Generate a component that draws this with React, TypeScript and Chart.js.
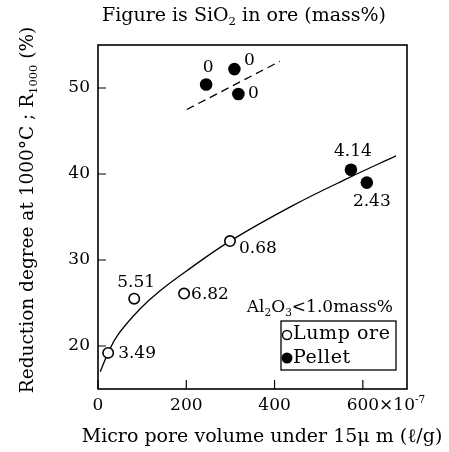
import React, { useEffect, useRef } from "react";
import { Chart, registerables } from "chart.js";

Chart.register(...registerables);

// Axis ranges and ticks
const xRange = [0, 700];
const yRange = [15, 55];
const xTickValues = [0, 200, 400, 600];
const yTickValues = [20, 30, 40, 50];

// Lump ore samples: micro pore volume (×10^-7 l/g), R1000 (%), SiO2 (mass%)
const lumpVolume = [23, 82, 195, 299];
const lumpR1000 = [19.2, 25.5, 26.1, 32.2];
const lumpSiO2 = ["3.49", "5.51", "6.82", "0.68"];

// Pellet samples
const pelletVolume = [245, 309, 318, 573, 609];
const pelletR1000 = [50.4, 52.2, 49.3, 40.5, 39.0];
const pelletSiO2 = ["0", "0", "0", "4.14", "2.43"];

// Hand-drawn trend line through the lump ore / silica-bearing pellets
const trendVolume = [5, 23, 45, 95, 140, 208, 299, 440, 570, 675];
const trendR1000 = [17.0, 19.2, 21.3, 24.3, 26.4, 29.0, 32.2, 36.3, 39.6, 42.1];

// Dashed trend for SiO2-free pellets
const dashVolume = [201, 412];
const dashR1000 = [47.5, 53.1];

const FONT = '"DejaVu Serif", "Liberation Serif", serif';

// label offsets (px) from each marker: [dx, dy, align]
const lumpLabelOffsets: [number, number, CanvasTextAlign][] = [
  [10, 1, "left"],
  [2, -16, "center"],
  [7, 1, "left"],
  [9, 7, "left"],
];
const pelletLabelOffsets: [number, number, CanvasTextAlign][] = [
  [2, -17, "center"],
  [15, -9, "center"],
  [15, 0, "center"],
  [2, -18, "center"],
  [5, 19, "center"],
];

type Seg = [string, number]; // text, 0 normal / 1 subscript / 2 superscript

function drawRich(
  ctx: CanvasRenderingContext2D,
  segs: Seg[],
  x: number,
  y: number,
  align: "left" | "center" | "right",
  size: number,
  spacing = 0
) {
  const small = size * 0.62;
  (ctx as any).letterSpacing = `${spacing}px`;
  const widths = segs.map(([t, k]) => {
    ctx.font = `${k ? small : size}px ${FONT}`;
    return ctx.measureText(t).width;
  });
  const total = widths.reduce((a, b) => a + b, 0);
  let cx = align === "left" ? x : align === "center" ? x - total / 2 : x - total;
  ctx.textAlign = "left";
  ctx.textBaseline = "middle";
  segs.forEach(([t, k], i) => {
    ctx.font = `${k ? small : size}px ${FONT}`;
    const dy = k === 1 ? size * 0.3 : k === 2 ? -size * 0.32 : 0;
    ctx.fillText(t, cx, y + dy);
    cx += widths[i];
  });
  (ctx as any).letterSpacing = "0px";
  return total;
}

const annotations = {
  id: "annotations",
  afterDraw(chart: any) {
    const { ctx, chartArea, scales } = chart;
    const xs = scales.x;
    const ys = scales.y;
    const { left, right, top, bottom } = chartArea;
    ctx.save();
    ctx.fillStyle = "#000";
    ctx.strokeStyle = "#000";

    // frame
    ctx.lineWidth = 1.6;
    ctx.strokeRect(left, top, right - left, bottom - top);

    // inward ticks
    ctx.lineWidth = 1.2;
    ctx.beginPath();
    yTickValues.forEach((v) => {
      const py = ys.getPixelForValue(v);
      ctx.moveTo(left, py);
      ctx.lineTo(left + 8, py);
    });
    xTickValues.forEach((v) => {
      const px = xs.getPixelForValue(v);
      ctx.moveTo(px, bottom);
      ctx.lineTo(px, bottom - 9);
    });
    ctx.stroke();

    // tick labels
    const tickSize = 17;
    yTickValues.forEach((v) => {
      drawRich(ctx, [[String(v), 0]], left - 8, ys.getPixelForValue(v), "right", tickSize);
    });
    xTickValues.forEach((v, i) => {
      const px = xs.getPixelForValue(v);
      const w = drawRich(ctx, [[String(v), 0]], px, bottom + 17, "center", tickSize);
      if (i === xTickValues.length - 1) {
        drawRich(ctx, [["×10", 0], ["-7", 2]], px + w / 2, bottom + 17, "left", tickSize);
      }
    });

    // point labels
    const meta0 = chart.getDatasetMeta(0);
    meta0.data.forEach((pt: any, i: number) => {
      const [dx, dy, al] = lumpLabelOffsets[i];
      drawRich(ctx, [[lumpSiO2[i], 0]], pt.x + dx, pt.y + dy, al as any, 17);
    });
    const meta1 = chart.getDatasetMeta(1);
    meta1.data.forEach((pt: any, i: number) => {
      const [dx, dy, al] = pelletLabelOffsets[i];
      drawRich(ctx, [[pelletSiO2[i], 0]], pt.x + dx, pt.y + dy, al as any, 17);
    });

    // titles
    drawRich(
      ctx,
      [["Figure is SiO", 0], ["2", 1], [" in ore (mass%)", 0]],
      244,
      16,
      "center",
      19
    );
    drawRich(
      ctx,
      [["Micro pore volume under 15μ m (ℓ/g)", 0]],
      262,
      437,
      "center",
      19
    );
    ctx.save();
    ctx.translate(28, 210);
    ctx.rotate(-Math.PI / 2);
    drawRich(
      ctx,
      [["Reduction degree at 1000°C ; R", 0], ["1000", 1], [" (%)", 0]],
      0,
      0,
      "center",
      18.5
    );
    ctx.restore();

    // legend
    drawRich(ctx, [["Al", 0], ["2", 1], ["O", 0], ["3", 1], ["<1.0mass%", 0]], 393, 308, "right", 17);
    ctx.lineWidth = 1.3;
    ctx.strokeRect(281, 321, 115, 49);
    ctx.lineWidth = 1.4;
    ctx.beginPath();
    ctx.arc(287, 335, 4.5, 0, Math.PI * 2);
    ctx.stroke();
    ctx.beginPath();
    ctx.arc(287, 358, 5.5, 0, Math.PI * 2);
    ctx.fill();
    drawRich(ctx, [["Lump ore", 0]], 293, 334, "left", 19, 0.6);
    drawRich(ctx, [["Pellet", 0]], 293, 358, "left", 19, 0.6);

    ctx.restore();
  },
};

export default function App() {
  const ref = useRef<HTMLCanvasElement | null>(null);

  useEffect(() => {
    if (!ref.current) return;
    const chart = new Chart(ref.current, {
      type: "scatter",
      data: {
        datasets: [
          {
            label: "Lump ore",
            data: lumpVolume.map((x, i) => ({ x, y: lumpR1000[i] })),
            pointRadius: 5.2,
            pointBackgroundColor: "#fff",
            pointBorderColor: "#000",
            pointBorderWidth: 1.6,
            order: 0,
          },
          {
            label: "Pellet",
            data: pelletVolume.map((x, i) => ({ x, y: pelletR1000[i] })),
            pointRadius: 6.3,
            pointBackgroundColor: "#000",
            pointBorderColor: "#000",
            pointBorderWidth: 0,
            order: 0,
          },
          {
            label: "trend",
            data: trendVolume.map((x, i) => ({ x, y: trendR1000[i] })),
            showLine: true,
            pointRadius: 0,
            borderColor: "#000",
            borderWidth: 1.3,
            tension: 0.4,
            order: 1,
          },
          {
            label: "SiO2-free",
            data: dashVolume.map((x, i) => ({ x, y: dashR1000[i] })),
            showLine: true,
            pointRadius: 0,
            borderColor: "#000",
            borderWidth: 1.3,
            borderDash: [8, 5],
            order: 1,
          },
        ],
      },
      options: {
        responsive: false,
        animation: false,
        layout: { padding: { left: 98, right: 42, top: 45, bottom: 63 } },
        plugins: {
          legend: { display: false },
          title: { display: false },
          tooltip: { enabled: false },
        },
        scales: {
          x: { type: "linear", min: xRange[0], max: xRange[1], display: false },
          y: { type: "linear", min: yRange[0], max: yRange[1], display: false },
        },
      },
      plugins: [annotations],
    });
    return () => chart.destroy();
  }, []);

  return (
    <div style={{ position: "absolute", left: 0, top: 0, width: 449, height: 452, background: "#fff" }}>
      <canvas ref={ref} width={449} height={452} style={{ display: "block" }} />
    </div>
  );
}
